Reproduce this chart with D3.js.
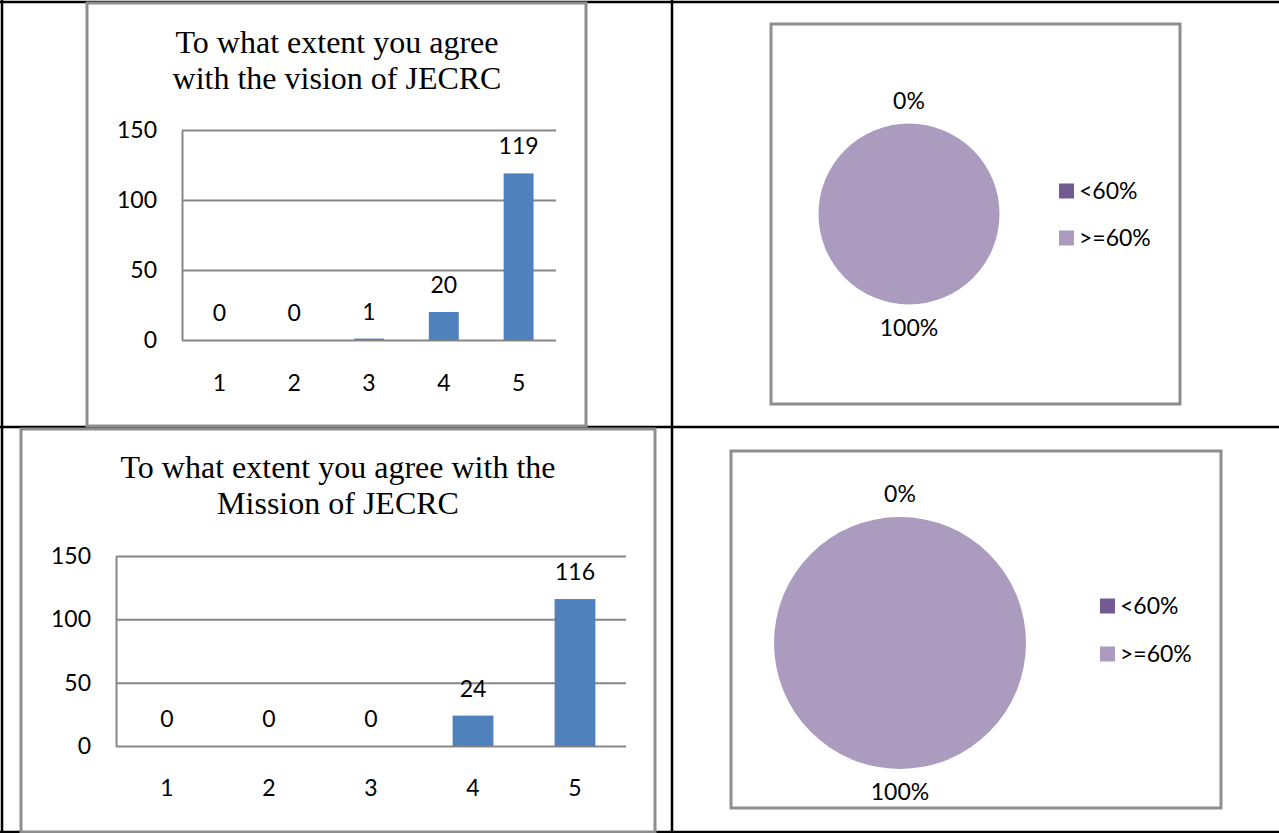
<!DOCTYPE html>
<html>
<head>
<meta charset="utf-8">
<script src="https://cdn.jsdelivr.net/npm/d3@7"></script>
<style>
  html, body { margin: 0; padding: 0; background: #ffffff; }
  svg { display: block; }
</style>
</head>
<body>
<svg id="chart" width="1279" height="833"></svg>
<script>
// ---- data ----
const categories = ["1", "2", "3", "4", "5"];
const visionCounts = [0, 0, 1, 20, 119];
const missionCounts = [0, 0, 0, 24, 116];
const yTickValues = [0, 50, 100, 150];
const visionTitle = ["To what extent you agree", "with the vision of JECRC"];
const missionTitle = ["To what extent you agree with the", "Mission of JECRC"];
const pieCategories = ["<60%", ">=60%"];
const visionPieShares = [0, 100];
const missionPieShares = [0, 100];

// ---- styles ----
const barColor = "#4F81BD";
const gridColor = "#878787";
const boxColor = "#8d8d8d";
const pieColors = ["#735A92", "#AA9BBF"];
const sansFont = "Lato, 'Open Sans', sans-serif";
const serifFont = "'Liberation Serif', 'Times New Roman', serif";
const labelSize = 23;

const svg = d3.select("#chart");

// ---- table frame ----
const table = svg.append("g").attr("stroke", "#000").attr("stroke-width", 2.5);
[[0, 2, 1279, 2], [2, 0, 2, 833], [672, 0, 672, 833], [0, 427, 1279, 427], [0, 832, 1279, 832]]
  .forEach(l => table.append("line").attr("x1", l[0]).attr("y1", l[1]).attr("x2", l[2]).attr("y2", l[3]));

function barChart(cfg) {
  const g = svg.append("g");
  g.append("rect").attr("x", cfg.box[0]).attr("y", cfg.box[1])
    .attr("width", cfg.box[2] - cfg.box[0]).attr("height", cfg.box[3] - cfg.box[1])
    .attr("fill", "#fff").attr("stroke", boxColor).attr("stroke-width", 3);

  g.append("text").attr("text-anchor", "middle")
    .attr("font-family", serifFont).attr("font-size", 32).attr("fill", "#000")
    .selectAll("tspan").data(cfg.title).join("tspan")
    .attr("x", cfg.titleX).attr("y", (d, i) => cfg.titleY + i * 36).text(d => d);

  const x = d3.scaleBand().domain(categories).range([cfg.plot[0], cfg.plot[1]])
    .paddingInner(0.6).paddingOuter(0.3);
  const y = d3.scaleLinear().domain([0, 150]).range([cfg.plot[3], cfg.plot[2]]);
  const w = cfg.plot[1] - cfg.plot[0];

  const ya = g.append("g").attr("transform", `translate(${cfg.plot[0]},0)`)
    .call(d3.axisLeft(y).tickValues(yTickValues).tickSize(-w).tickSizeOuter(0).tickPadding(25));
  ya.selectAll("line").attr("stroke", gridColor).attr("stroke-width", 2);
  ya.select(".domain").attr("stroke", gridColor).attr("stroke-width", 2);
  ya.selectAll("text").attr("font-family", sansFont).attr("font-size", labelSize).attr("fill", "#000");

  const xa = g.append("g").attr("transform", `translate(0,${cfg.plot[3]})`)
    .call(d3.axisBottom(x).tickSize(0).tickPadding(cfg.xPad));
  xa.select(".domain").remove();
  xa.selectAll("text").attr("font-family", sansFont).attr("font-size", labelSize).attr("fill", "#000");

  g.append("g").selectAll("rect").data(cfg.values).join("rect")
    .attr("x", (d, i) => x(categories[i]))
    .attr("width", x.bandwidth())
    .attr("y", d => y(d))
    .attr("height", d => y(0) - y(d))
    .attr("fill", barColor);

  g.append("g").selectAll("text").data(cfg.values).join("text")
    .attr("x", (d, i) => x(categories[i]) + x.bandwidth() / 2)
    .attr("y", d => y(d) - 27)
    .attr("dy", "0.35em")
    .attr("text-anchor", "middle")
    .attr("font-family", sansFont).attr("font-size", labelSize).attr("fill", "#000")
    .text(d => d);
}

function pieChart(cfg) {
  const g = svg.append("g");
  g.append("rect").attr("x", cfg.box[0]).attr("y", cfg.box[1])
    .attr("width", cfg.box[2] - cfg.box[0]).attr("height", cfg.box[3] - cfg.box[1])
    .attr("fill", "#fff").attr("stroke", boxColor).attr("stroke-width", 3);

  const color = d3.scaleOrdinal().domain(pieCategories).range(pieColors);
  const arcs = d3.pie().sort(null)(cfg.values);
  const arc = d3.arc().innerRadius(0).outerRadius(cfg.r);
  const pg = g.append("g").attr("transform", `translate(${cfg.cx},${cfg.cy})`);
  pg.selectAll("path").data(arcs).join("path")
    .attr("d", arc).attr("fill", (d, i) => color(pieCategories[i]));

  const total = d3.sum(cfg.values);
  const labelR = cfg.r + 23;
  pg.selectAll("text").data(arcs).join("text")
    .attr("x", d => { const a = (d.startAngle + d.endAngle) / 2; return Math.sin(a) * labelR; })
    .attr("y", d => { const a = (d.startAngle + d.endAngle) / 2; return -Math.cos(a) * labelR; })
    .attr("dy", "0.35em").attr("text-anchor", "middle")
    .attr("font-family", sansFont).attr("font-size", labelSize).attr("fill", "#000")
    .text(d => Math.round(d.data / total * 100) + "%");

  const lg = g.append("g").attr("transform", `translate(${cfg.legend[0]},${cfg.legend[1]})`);
  const items = lg.selectAll("g").data(pieCategories).join("g")
    .attr("transform", (d, i) => `translate(0,${i * cfg.legendStep})`);
  items.append("rect").attr("x", 0).attr("y", -7.5).attr("width", 15).attr("height", 15)
    .attr("fill", d => color(d));
  items.append("text").attr("x", 20).attr("dy", "0.35em")
    .attr("font-family", sansFont).attr("font-size", labelSize).attr("fill", "#000").text(d => d);
}

barChart({
  box: [87, 3, 586, 426], title: visionTitle, titleX: 337, titleY: 53,
  plot: [182, 556, 130, 340], values: visionCounts, xPad: 35
});
barChart({
  box: [21, 429, 655, 832], title: missionTitle, titleX: 338, titleY: 478,
  plot: [116, 626, 556, 746], values: missionCounts, xPad: 34
});
pieChart({
  box: [771, 24, 1180, 404], cx: 909, cy: 214, r: 90.5, values: visionPieShares,
  legend: [1059, 191], legendStep: 47
});
pieChart({
  box: [731, 451, 1221, 808], cx: 900, cy: 643, r: 126, values: missionPieShares,
  legend: [1100, 606], legendStep: 48
});
</script>
</body>
</html>
